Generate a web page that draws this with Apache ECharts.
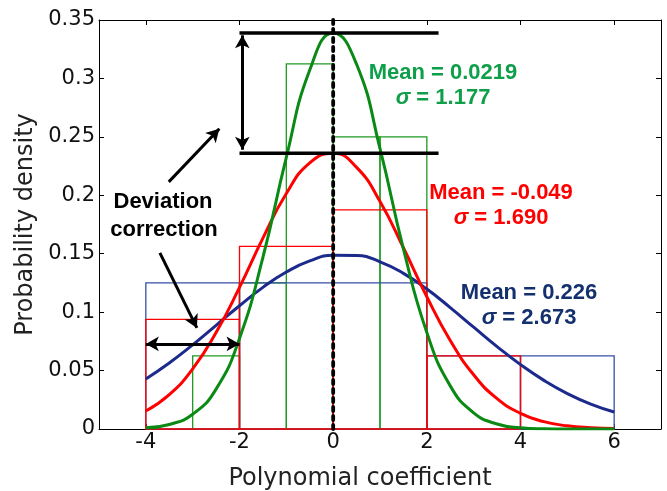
<!DOCTYPE html>
<html>
<head>
<meta charset="utf-8">
<title>Probability density of polynomial coefficients</title>
<script src="https://cdn.jsdelivr.net/npm/echarts@6/dist/echarts.min.js"></script>
<style>
  html, body { margin: 0; padding: 0; background: #fff; }
  #chart { width: 667px; height: 491px; }
</style>
</head>
<body>
<div id="chart"></div>
<script>
// Tick labels
const xTicks = [-4, -2, 0, 2, 4, 6];

// Histogram bin edges and heights (outlined bins)
const greenEdges = [-3, -2, -1, 0, 1, 2];
const greenHeights = [0.0625, 0.125, 0.3125, 0.25, 0.25];
const redEdges = [-4, -2, 0, 2, 4];
const redHeights = [0.09375, 0.15625, 0.1875, 0.0625];
const blueEdges = [-4, -2, 0, 2, 4, 6];
const blueHeights = [0.125, 0.125, 0.125, 0.0625, 0.0625];

// Fitted density curves sampled along the coefficient axis
const curveX = [-4, -3.5, -3, -2.5, -2, -1.5, -1, -0.5, 0, 0.5, 1, 1.5, 2, 2.5, 3, 3.5, 4, 4.5, 5, 5.5, 6];
const greenPdf = [0.0010, 0.0039, 0.0126, 0.0341, 0.0775, 0.1469, 0.2325, 0.3072, 0.3389, 0.3121, 0.2400, 0.1541, 0.0826, 0.0369, 0.0138, 0.0043, 0.0011, 0.0002, 0.0000, 0.0000, 0.0000];
const redPdf = [0.0154, 0.0294, 0.0514, 0.0825, 0.1212, 0.1633, 0.2015, 0.2278, 0.2360, 0.2239, 0.1947, 0.1551, 0.1132, 0.0757, 0.0464, 0.0260, 0.0134, 0.0063, 0.0027, 0.0011, 0.0004];
const bluePdf = [0.0428, 0.0565, 0.0720, 0.0887, 0.1055, 0.1212, 0.1343, 0.1438, 0.1487, 0.1485, 0.1431, 0.1332, 0.1198, 0.1039, 0.0871, 0.0705, 0.0551, 0.0416, 0.0303, 0.0213, 0.0145];

// Fit statistics shown next to each curve
const statMeans = ['0.0219', '-0.049', '0.226'];
const statSigmas = ['1.177', '1.690', '2.673'];

const GREEN_LINE = '#0a8a14';
const GREEN_BIN = '#1f9a22';
const GREEN_TEXT = '#0f9f4a';
const RED = '#ff0000';
const BLUE_LINE = '#1c2a8c';
const BLUE_BIN = '#3550a6';
const BLUE_TEXT = '#14306e';

const REG_FONT = 'DejaVu Sans';
const BOLD_FONT = 'Liberation Sans';

function toBins(edges, heights) {
  return heights.map((h, i) => [edges[i], edges[i + 1], h]);
}
function toPoints(xs, ys) {
  return xs.map((x, i) => [x, ys[i]]);
}

function histSeries(name, edges, heights, color, width) {
  return {
    name: name,
    type: 'custom',
    silent: true,
    data: toBins(edges, heights),
    encode: { x: [0, 1], y: 2 },
    renderItem: function (params, api) {
      const p0 = api.coord([api.value(0), 0]);
      const p1 = api.coord([api.value(1), api.value(2)]);
      return {
        type: 'rect',
        shape: { x: p0[0], y: p1[1], width: p1[0] - p0[0], height: p0[1] - p1[1] },
        style: { fill: 'none', stroke: color, lineWidth: width }
      };
    }
  };
}

function curveSeries(name, ys, color) {
  return {
    name: name,
    type: 'line',
    silent: true,
    data: toPoints(curveX, ys),
    smooth: 0.5,
    showSymbol: false,
    symbol: 'none',
    lineStyle: { color: color, width: 3 }
  };
}

const greenPeak = Math.max(...greenPdf);
const redPeak = Math.max(...redPdf);

const blackLine = { color: '#000', width: 3.5 };

const chart = echarts.init(document.getElementById('chart'), null, { renderer: 'canvas' });

const axisCommon = {
  type: 'value',
  axisLine: { show: true, onZero: false, lineStyle: { color: '#000', width: 1 } },
  splitLine: { show: false }
};

chart.setOption({
  animation: false,
  backgroundColor: '#fff',
  grid: { left: 99, right: 6, top: 20, bottom: 62, outerBoundsMode: 'none', containLabel: false },
  xAxis: [
    Object.assign({}, axisCommon, {
      min: -5, max: 7,
      position: 'bottom',
      axisTick: { inside: true, length: 5, customValues: xTicks, lineStyle: { color: '#000' } },
      axisLabel: { customValues: xTicks, fontFamily: REG_FONT, fontSize: 21, color: '#111', margin: 3 },
      name: 'Polynomial coefficient',
      nameLocation: 'middle',
      nameGap: 38,
      nameTextStyle: { fontFamily: REG_FONT, fontSize: 24, color: '#222', padding: [0, 40, 0, 0] }
    }),
    Object.assign({}, axisCommon, {
      min: -5, max: 7,
      position: 'top',
      axisTick: { inside: true, length: 5, customValues: xTicks, lineStyle: { color: '#000' } },
      axisLabel: { show: false }
    })
  ],
  yAxis: [
    Object.assign({}, axisCommon, {
      min: 0, max: 0.35, interval: 0.05,
      position: 'left',
      axisTick: { inside: true, length: 5, lineStyle: { color: '#000' } },
      axisLabel: { fontFamily: REG_FONT, fontSize: 21, color: '#111', margin: 4 },
      name: 'Probability density',
      nameLocation: 'middle',
      nameGap: 54,
      nameTextStyle: { fontFamily: REG_FONT, fontSize: 24, color: '#222' }
    }),
    Object.assign({}, axisCommon, {
      min: 0, max: 0.35, interval: 0.05,
      position: 'right',
      axisTick: { inside: true, length: 5, lineStyle: { color: '#000' } },
      axisLabel: { show: false }
    })
  ],
  series: [
    histSeries('green bins', greenEdges, greenHeights, GREEN_BIN, 1.3),
    histSeries('blue bins', blueEdges, blueHeights, BLUE_BIN, 1.3),
    histSeries('red bins', redEdges, redHeights, RED, 1.3),
    curveSeries('blue fit', bluePdf, BLUE_LINE),
    curveSeries('red fit', redPdf, RED),
    curveSeries('green fit', greenPdf, GREEN_LINE),
    {
      name: 'green peak',
      type: 'line', silent: true, symbol: 'none',
      data: [[-2, greenPeak], [2.25, greenPeak]],
      lineStyle: blackLine
    },
    {
      name: 'red peak',
      type: 'line', silent: true, symbol: 'none',
      data: [[-2, redPeak], [2.25, redPeak]],
      lineStyle: blackLine
    },
    {
      name: 'zero',
      type: 'line', silent: true, symbol: 'none',
      data: [[0, 0], [0, 0.35]],
      lineStyle: { color: '#000', width: 3.8, type: [4, 5], cap: 'round' },
      markLine: {
        silent: true,
        animation: false,
        symbolSize: [11, 13],
        label: { show: false },
        lineStyle: { color: '#000', width: 3, type: 'solid' },
        emphasis: { disabled: true },
        data: [
          [{ coord: [-1.94, greenPeak - 0.002], symbol: 'arrow' }, { coord: [-1.94, redPeak + 0.003], symbol: 'arrow' }],
          [{ coord: [-3.51, 0.2115], symbol: 'none' }, { coord: [-2.43, 0.257], symbol: 'arrow' }],
          [{ coord: [-3.70, 0.1507], symbol: 'none' }, { coord: [-2.91, 0.0865], symbol: 'arrow' }],
          [{ coord: [-4, 0.0728], symbol: 'arrow' }, { coord: [-2, 0.0728], symbol: 'arrow' }]
        ]
      }
    }
  ],
  graphic: [
    {
      type: 'text', x: 163, y: 202, silent: true,
      style: { text: 'Deviation', fontFamily: BOLD_FONT, fontWeight: 'bold', fontSize: 22, fill: '#000', align: 'center', verticalAlign: 'middle' }
    },
    {
      type: 'text', x: 164, y: 230, silent: true,
      style: { text: 'correction', fontFamily: BOLD_FONT, fontWeight: 'bold', fontSize: 22, fill: '#000', align: 'center', verticalAlign: 'middle' }
    }
  ].concat(
    [[443, 73, 98, GREEN_TEXT], [501, 193, 218, RED], [529, 293, 318, BLUE_TEXT]].flatMap((p, i) => [
      {
        type: 'text', x: p[0], y: p[1], silent: true,
        style: { text: 'Mean = ' + statMeans[i], fontFamily: BOLD_FONT, fontWeight: 'bold', fontSize: 22, fill: p[3], align: 'center', verticalAlign: 'middle' }
      },
      {
        type: 'text', x: p[0], y: p[2], silent: true,
        style: {
          text: '{s|σ}{t| = ' + statSigmas[i] + '}',
          align: 'center', verticalAlign: 'middle',
          rich: {
            s: { fontFamily: BOLD_FONT, fontWeight: 'bold', fontStyle: 'italic', fontSize: 22, fill: p[3] },
            t: { fontFamily: BOLD_FONT, fontWeight: 'bold', fontSize: 22, fill: p[3] }
          }
        }
      }
    ])
  )
});
</script>
</body>
</html>
